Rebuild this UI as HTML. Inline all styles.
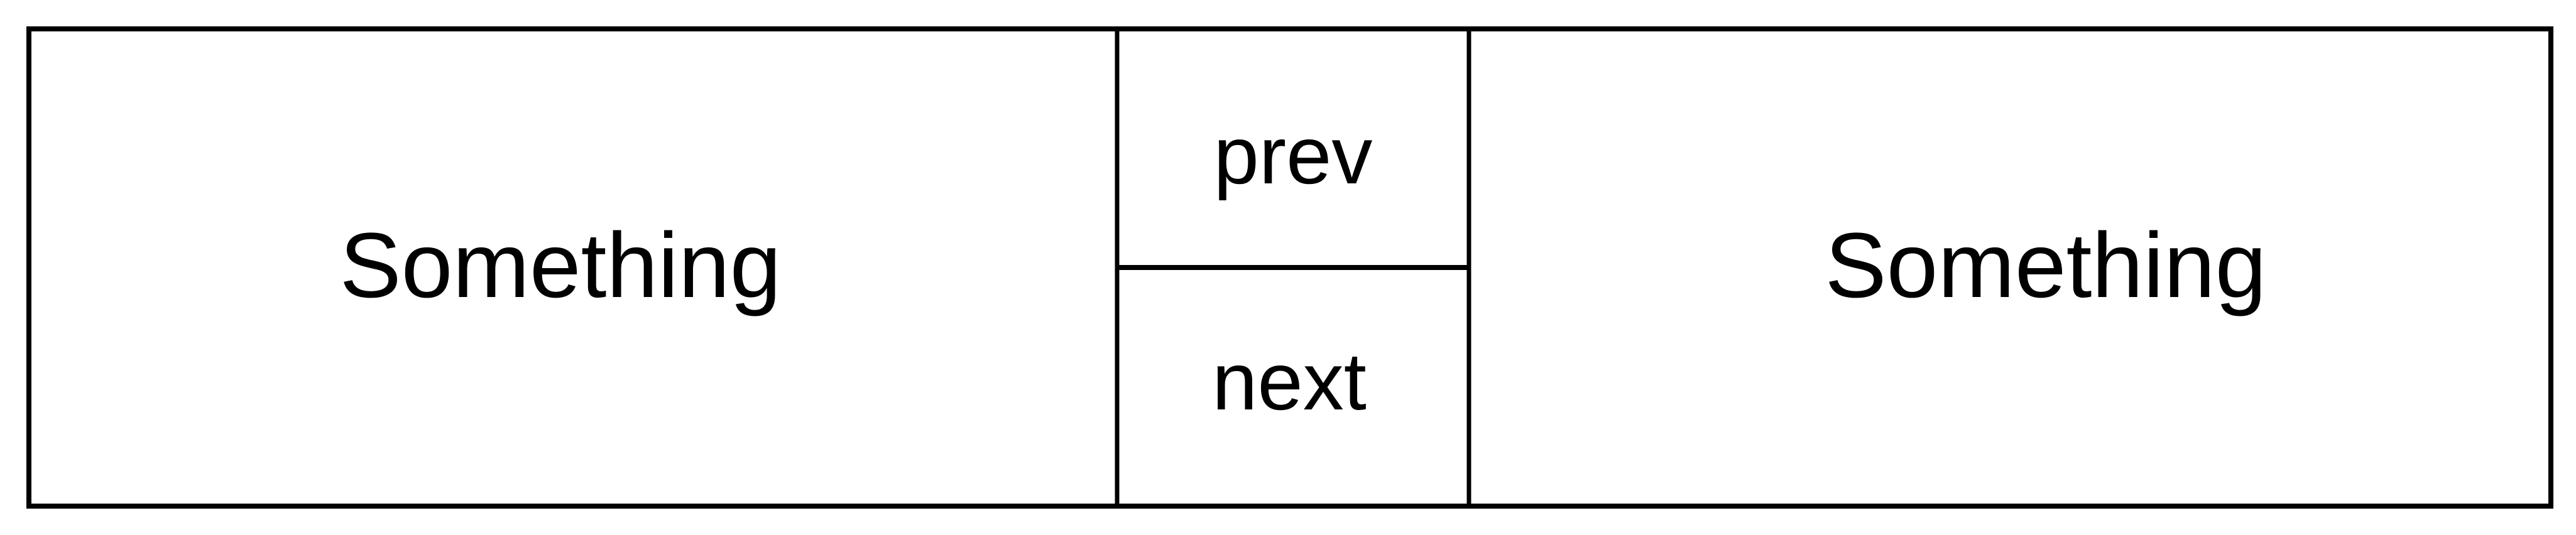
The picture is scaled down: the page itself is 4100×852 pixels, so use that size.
<!DOCTYPE html>
<html><head><meta charset="utf-8"><style>
html,body{margin:0;padding:0;background:#fff;width:4100px;height:852px;overflow:hidden}
text{font-family:"Liberation Sans",Arial,sans-serif;fill:#000}
</style></head><body>
<svg width="4100" height="852" viewBox="0 0 4100 852" xmlns="http://www.w3.org/2000/svg">
<rect x="46" y="46" width="4014" height="760" fill="#fff" stroke="#000" stroke-width="8"/>
<line x1="1778" y1="46" x2="1778" y2="806" stroke="#000" stroke-width="7"/>
<line x1="2338" y1="46" x2="2338" y2="806" stroke="#000" stroke-width="7"/>
<line x1="1778" y1="426" x2="2338" y2="426" stroke="#000" stroke-width="8"/>
<text x="892" y="473" font-size="147" text-anchor="middle">Something</text>
<text x="3256" y="473" font-size="147" text-anchor="middle">Something</text>
<text x="2058" y="292" font-size="130" text-anchor="middle">prev</text>
<text x="2052" y="652" font-size="130" text-anchor="middle">next</text>
</svg>
</body></html>
